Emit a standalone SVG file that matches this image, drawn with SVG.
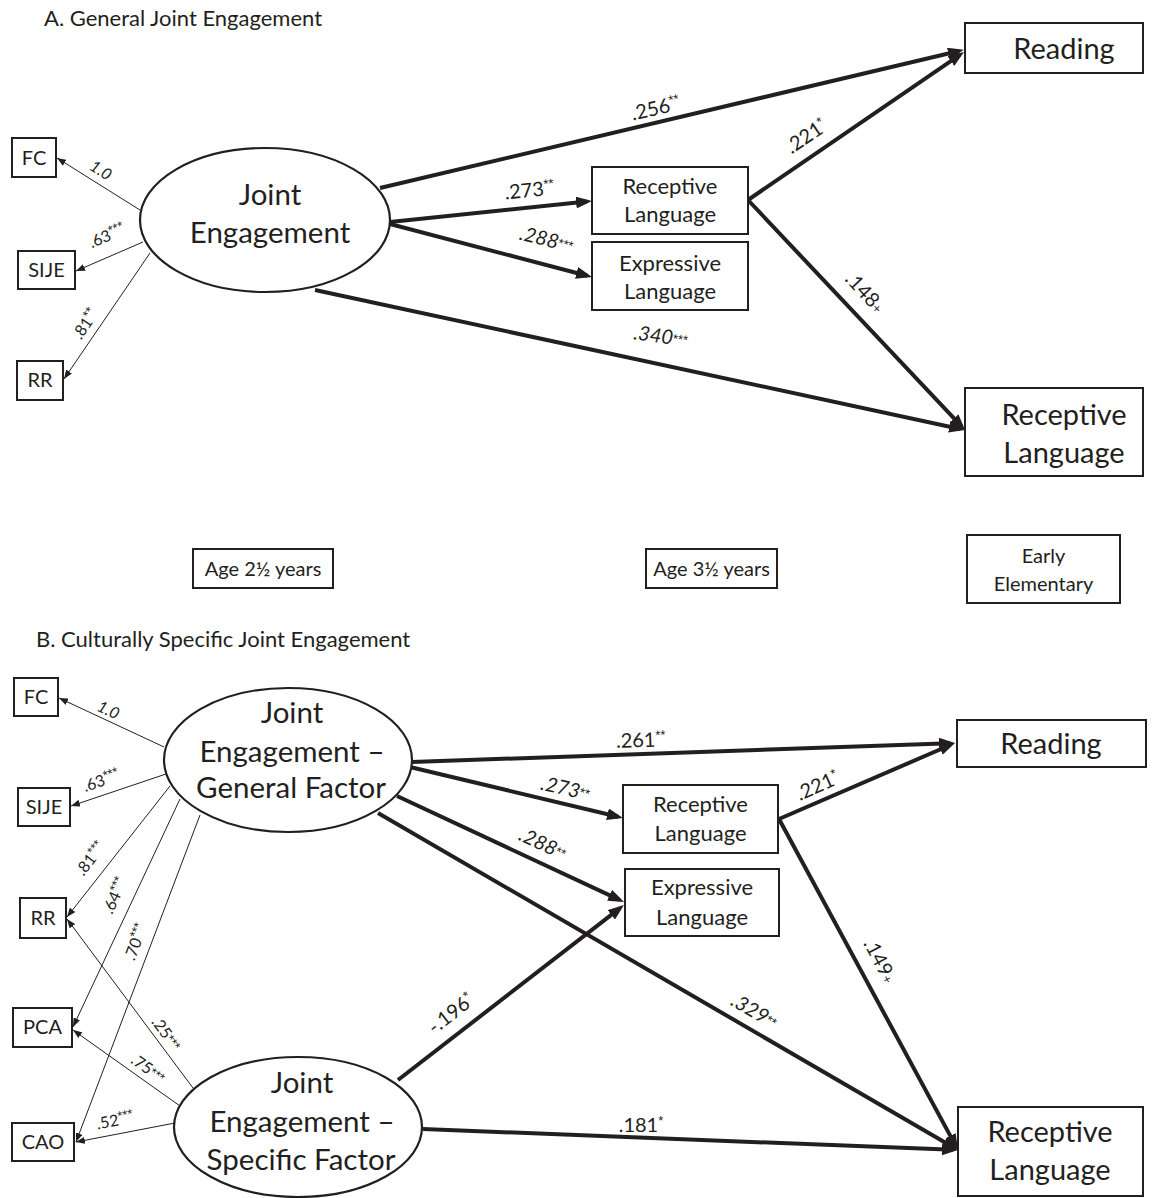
<svg xmlns="http://www.w3.org/2000/svg" width="1157" height="1198" viewBox="0 0 1157 1198">
<style>
  text { font-family: Lato, "Liberation Sans", sans-serif; fill: #231f20; }
  .title { font-size: 22px; }
  .box { fill: #fff; stroke: #231f20; stroke-width: 2; }
  .ell { fill: #fff; stroke: #231f20; stroke-width: 2.2; }
  .big { font-size: 29.5px; text-anchor: middle; }
  .med { font-size: 29px; text-anchor: middle; }
  .mid { font-size: 22px; text-anchor: middle; }
  .sm { font-size: 20px; text-anchor: middle; }
  .age { font-size: 20px; text-anchor: middle; }
  .thick { stroke: #231f20; stroke-width: 4; fill: none; marker-end: url(#ah); }
  .thin { stroke: #231f20; stroke-width: 1; fill: none; marker-end: url(#as); }
  .lb { font-size: 20px; text-anchor: middle; }
  .ld { font-size: 16px; text-anchor: middle; }
  .it { font-style: italic; }
  .st { font-size: 13px; font-family: "Liberation Sans", sans-serif; font-style: normal; }
</style>
<defs>
  <marker id="ah" viewBox="0 0 16 12" refX="11" refY="6" markerWidth="16" markerHeight="12" markerUnits="userSpaceOnUse" orient="auto">
    <path d="M0,0 L16,6 L0,12 z" fill="#231f20"/>
  </marker>
  <marker id="as" viewBox="0 0 9 7" refX="9" refY="3.5" markerWidth="9" markerHeight="7" markerUnits="userSpaceOnUse" orient="auto">
    <path d="M0,0 L9,3.5 L0,7 z" fill="#231f20"/>
  </marker>
</defs>
<rect width="1157" height="1198" fill="#fff"/>

<text class="title" x="44" y="26">A. General Joint Engagement</text>
<text class="title" x="36" y="647">B. Culturally Specific Joint Engagement</text>

<g id="connectors">
  <!-- Panel A loadings -->
  <path class="thin" d="M140,210 L57,158"/>
  <path class="thin" d="M143,242 L76,271"/>
  <path class="thin" d="M150,253 L64,379"/>
  <!-- Panel A structural -->
  <path class="thick" d="M380,188 L959,51"/>
  <path class="thick" d="M390,222 L587,201.5"/>
  <path class="thick" d="M390,224 L587.2,275.7"/>
  <path class="thick" d="M315,290 L960.1,429"/>
  <path class="thick" d="M748,200 L959.9,54.8"/>
  <path class="thick" d="M748,200 L961.6,426.4"/>
  <!-- Panel B loadings general -->
  <path class="thin" d="M164,747 L59,698"/>
  <path class="thin" d="M166,774 L71,806"/>
  <path class="thin" d="M170,786 L67,917"/>
  <path class="thin" d="M180,799 L73,1027"/>
  <path class="thin" d="M200,815 L76,1142"/>
  <!-- Panel B loadings specific -->
  <path class="thin" d="M193,1088 L67,919"/>
  <path class="thin" d="M180,1106 L73,1030"/>
  <path class="thin" d="M175,1123 L76,1142"/>
  <!-- Panel B structural -->
  <path class="thick" d="M412,762 L950,743.2"/>
  <path class="thick" d="M410,767 L618.1,816.8"/>
  <path class="thick" d="M397,796 L619.5,899.9"/>
  <path class="thick" d="M378,813 L953.7,1147.5"/>
  <path class="thick" d="M398,1080 L620,908.1"/>
  <path class="thick" d="M423,1129 L953,1149.8"/>
  <path class="thick" d="M779,819 L950.4,745"/>
  <path class="thick" d="M779,819 L955.6,1145.6"/>

  <!-- labels A -->
  <text class="ld it" transform="translate(98,175) rotate(32)">1.0</text>
  <text class="ld" transform="translate(109,241) rotate(-23)">.63<tspan class="st" dy="-5">***</tspan></text>
  <text class="ld" transform="translate(90,327) rotate(-56)">.81<tspan class="st" dy="-5">**</tspan></text>
  <text class="lb" transform="translate(657,115) rotate(-13)">.256<tspan class="st" dy="-7">**</tspan></text>
  <text class="lb" transform="translate(530,197) rotate(-6)">.273<tspan class="st" dy="-7">**</tspan></text>
  <text class="lb it" transform="translate(545,246) rotate(14)">.288<tspan class="st" dy="-2">***</tspan></text>
  <text class="lb it" transform="translate(660,343) rotate(8)">.340<tspan class="st" dy="-2">***</tspan></text>
  <text class="lb" transform="translate(810,142) rotate(-34)">.221<tspan class="st" dy="-7">*</tspan></text>
  <text class="lb" transform="translate(860,297) rotate(47)">.148<tspan class="st">+</tspan></text>

  <!-- labels B -->
  <text class="ld it" transform="translate(106,715) rotate(25)">1.0</text>
  <text class="ld" transform="translate(103,786) rotate(-19)">.63<tspan class="st" dy="-5">***</tspan></text>
  <text class="ld" transform="translate(95,862) rotate(-52)">.81<tspan class="st" dy="-5">***</tspan></text>
  <text class="ld" transform="translate(120,898) rotate(-65)">.64<tspan class="st" dy="-5">***</tspan></text>
  <text class="ld" transform="translate(141,944) rotate(-69)">.70<tspan class="st" dy="-5">***</tspan></text>
  <text class="ld" transform="translate(162,1037) rotate(53)">.25<tspan class="st" dy="-1">***</tspan></text>
  <text class="ld" transform="translate(145,1073) rotate(35)">.75<tspan class="st" dy="-1">***</tspan></text>
  <text class="ld" transform="translate(116,1126) rotate(-11)">.52<tspan class="st" dy="-5">***</tspan></text>
  <text class="lb" transform="translate(641,747) rotate(-2)">.261<tspan class="st" dy="-7">**</tspan></text>
  <text class="lb it" transform="translate(564,795) rotate(13)">.273<tspan class="st" dy="-2">**</tspan></text>
  <text class="lb it" transform="translate(540,850) rotate(25)">.288<tspan class="st" dy="-2">**</tspan></text>
  <text class="lb it" transform="translate(751,1017) rotate(30)">.329<tspan class="st" dy="-2">**</tspan></text>
  <text class="lb" transform="translate(455,1019) rotate(-38)">-.196<tspan class="st" dy="-7">*</tspan></text>
  <text class="lb" transform="translate(641,1132)">.181<tspan class="st" dy="-7">*</tspan></text>
  <text class="lb" transform="translate(820,792) rotate(-24)">.221<tspan class="st" dy="-7">*</tspan></text>
  <text class="lb" transform="translate(874,964) rotate(62)">.149<tspan class="st">+</tspan></text>
</g>

<!-- Panel A nodes -->
<g id="A_FC"><rect class="box" x="12" y="138" width="44" height="39"/><text class="sm" x="34" y="165">FC</text></g>
<g id="A_SIJE"><rect class="box" x="18" y="251" width="57" height="38"/><text class="sm" x="46.5" y="277">SIJE</text></g>
<g id="A_RR"><rect class="box" x="17" y="361" width="46" height="39"/><text class="sm" x="40" y="387">RR</text></g>
<g id="A_JE"><ellipse class="ell" cx="265" cy="220" rx="125" ry="72"/><text class="big" x="270" y="205">Joint</text><text class="big" x="270" y="243">Engagement</text></g>
<g id="A_RecLang35"><rect class="box" x="592" y="167" width="156" height="67"/><text class="mid" x="670" y="194">Receptive</text><text class="mid" x="670" y="222">Language</text></g>
<g id="A_ExpLang35"><rect class="box" x="592" y="242" width="156" height="68"/><text class="mid" x="670" y="271">Expressive</text><text class="mid" x="670" y="299">Language</text></g>
<g id="A_Reading"><rect class="box" x="965" y="23" width="178" height="50"/><text class="med" x="1064" y="59">Reading</text></g>
<g id="A_RecLangEE"><rect class="box" x="965" y="388" width="178" height="88"/><text class="med" x="1064" y="425">Receptive</text><text class="med" x="1064" y="463">Language</text></g>

<!-- Age labels -->
<g id="Age25"><rect class="box" x="193" y="549" width="140" height="39"/><text class="age" x="263" y="576">Age 2½ years</text></g>
<g id="Age35"><rect class="box" x="646" y="549" width="131" height="39"/><text class="age" x="711.5" y="576">Age 3½ years</text></g>
<g id="EarlyElem"><rect class="box" x="967" y="535" width="153" height="68"/><text class="age" x="1043.5" y="563">Early</text><text class="age" x="1043.5" y="591">Elementary</text></g>

<!-- Panel B nodes -->
<g id="B_FC"><rect class="box" x="14" y="678" width="44" height="38"/><text class="sm" x="36" y="704">FC</text></g>
<g id="B_SIJE"><rect class="box" x="18" y="788" width="52" height="38"/><text class="sm" x="44" y="814">SIJE</text></g>
<g id="B_RR"><rect class="box" x="20" y="898" width="46" height="40"/><text class="sm" x="43" y="925">RR</text></g>
<g id="B_PCA"><rect class="box" x="13" y="1008" width="59" height="39"/><text class="sm" x="42.5" y="1034">PCA</text></g>
<g id="B_CAO"><rect class="box" x="12" y="1123" width="62" height="38"/><text class="sm" x="43" y="1149">CAO</text></g>
<g id="B_General"><ellipse class="ell" cx="288" cy="760" rx="124" ry="72"/><text class="big" x="292" y="723">Joint</text><text class="big" x="292" y="762">Engagement –</text><text class="big" x="291" y="798">General Factor</text></g>
<g id="B_Specific"><ellipse class="ell" cx="298" cy="1127" rx="124" ry="70"/><text class="big" x="302" y="1093">Joint</text><text class="big" x="302" y="1132">Engagement –</text><text class="big" x="301" y="1170">Specific Factor</text></g>
<g id="B_RecLang35"><rect class="box" x="623" y="785" width="155" height="68"/><text class="mid" x="700.5" y="812">Receptive</text><text class="mid" x="700.5" y="841">Language</text></g>
<g id="B_ExpLang35"><rect class="box" x="625" y="869" width="154" height="67"/><text class="mid" x="702" y="895">Expressive</text><text class="mid" x="702" y="925">Language</text></g>
<g id="B_Reading"><rect class="box" x="957" y="720" width="189" height="47"/><text class="med" x="1051" y="754">Reading</text></g>
<g id="B_RecLangEE"><rect class="box" x="958" y="1107" width="185" height="89"/><text class="med" x="1050" y="1142">Receptive</text><text class="med" x="1050" y="1180">Language</text></g>
</svg>
